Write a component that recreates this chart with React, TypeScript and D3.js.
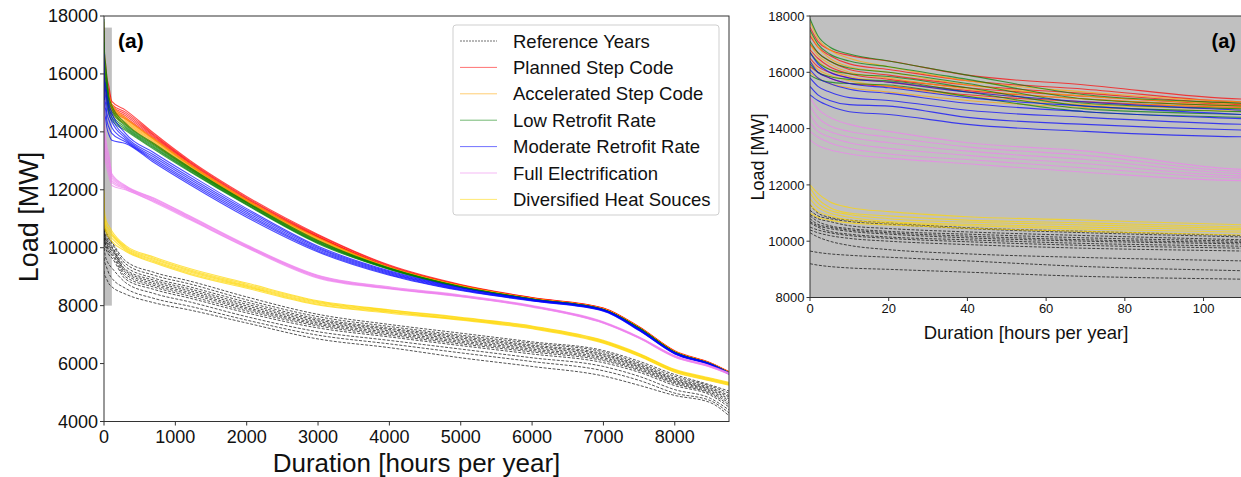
import React from "react";
import * as d3 from "d3";

// durations (hours per year) at which every load-duration curve was read
const HOURS = [0, 2, 5, 10, 20, 40, 70, 110, 300, 700, 1200, 2000, 3000, 4000, 5000, 6000, 7000, 7500, 8000, 8500, 8760];

// loads in MW, one row per curve
const referenceYears = [
  [11300, 11000, 10850, 10750, 10650, 10480, 10350, 10200, 9550, 9150, 8850, 8300, 7700, 7350, 7050, 6750, 6450, 6080, 5620, 5260, 5050],
  [11100, 10900, 10800, 10700, 10600, 10450, 10300, 10150, 9450, 9050, 8750, 8200, 7620, 7280, 6980, 6700, 6400, 6020, 5560, 5220, 4980],
  [10950, 10800, 10700, 10550, 10450, 10330, 10200, 10050, 9350, 8950, 8650, 8120, 7550, 7220, 6930, 6640, 6340, 5970, 5500, 5170, 4900],
  [10900, 10700, 10550, 10450, 10350, 10250, 10120, 10000, 9250, 8880, 8580, 8050, 7500, 7180, 6880, 6600, 6300, 5930, 5460, 5130, 4850],
  [10800, 10600, 10500, 10400, 10300, 10180, 10050, 9950, 9200, 8820, 8520, 7990, 7450, 7130, 6830, 6550, 6250, 5890, 5420, 5090, 4780],
  [10700, 10550, 10450, 10350, 10250, 10120, 10000, 9900, 9150, 8760, 8460, 7930, 7400, 7080, 6780, 6500, 6200, 5850, 5380, 5050, 4720],
  [10650, 10500, 10350, 10250, 10150, 10050, 9920, 9820, 9080, 8700, 8400, 7880, 7350, 7030, 6730, 6450, 6150, 5800, 5340, 5000, 4650],
  [10500, 10400, 10300, 10200, 10100, 9980, 9850, 9750, 9000, 8640, 8330, 7820, 7300, 6980, 6680, 6400, 6100, 5760, 5300, 4960, 4580],
  [10400, 10300, 10200, 10100, 10000, 9880, 9750, 9650, 8920, 8560, 8260, 7750, 7230, 6920, 6620, 6330, 6030, 5700, 5240, 4910, 4500],
  [10300, 10150, 10000, 9850, 9700, 9550, 9420, 9300, 8800, 8420, 8130, 7620, 7100, 6800, 6500, 6200, 5900, 5560, 5100, 4800, 4400],
  [9650, 9600, 9550, 9500, 9430, 9300, 9100, 8950, 8600, 8250, 7980, 7500, 6980, 6680, 6370, 6070, 5750, 5420, 4980, 4720, 4300],
  [9200, 9150, 9100, 9050, 9000, 8900, 8750, 8650, 8400, 8100, 7850, 7400, 6850, 6550, 6200, 5900, 5570, 5250, 4900, 4650, 4200],
];

const plannedStepCode = [
  [17600, 17100, 16800, 16600, 16400, 15900, 15550, 15050, 14750, 13950, 13020, 11770, 10460, 9400, 8730, 8280, 7920, 7270, 6440, 6030, 5720],
  [17300, 16900, 16600, 16300, 16100, 15700, 15400, 14950, 14680, 13900, 12980, 11730, 10430, 9380, 8715, 8270, 7910, 7260, 6430, 6020, 5710],
  [17000, 16700, 16400, 16100, 15900, 15550, 15250, 14900, 14620, 13860, 12950, 11700, 10400, 9350, 8700, 8260, 7900, 7250, 6420, 6010, 5700],
  [16800, 16500, 16200, 15950, 15750, 15450, 15150, 14850, 14560, 13820, 12920, 11670, 10380, 9330, 8690, 8250, 7895, 7245, 6415, 6005, 5695],
  [16500, 16200, 16000, 15800, 15650, 15350, 15050, 14800, 14500, 13780, 12880, 11640, 10360, 9320, 8680, 8245, 7890, 7240, 6410, 6000, 5690],
  [16200, 16000, 15800, 15600, 15500, 15200, 14950, 14750, 14450, 13740, 12850, 11610, 10340, 9310, 8670, 8240, 7885, 7235, 6405, 5995, 5685],
];

const acceleratedStepCode = [
  [17800, 17200, 16800, 16500, 16200, 15700, 15300, 14950, 14500, 13760, 12880, 11660, 10340, 9330, 8690, 8250, 7890, 7245, 6415, 6010, 5700],
  [17400, 16900, 16500, 16200, 16000, 15550, 15150, 14880, 14450, 13720, 12850, 11630, 10310, 9320, 8680, 8245, 7885, 7240, 6410, 6005, 5695],
  [17000, 16600, 16300, 16000, 15800, 15400, 15050, 14820, 14400, 13680, 12820, 11600, 10290, 9310, 8670, 8240, 7880, 7235, 6405, 6000, 5690],
  [16700, 16400, 16100, 15850, 15650, 15300, 14950, 14760, 14350, 13640, 12790, 11580, 10270, 9300, 8665, 8238, 7878, 7232, 6402, 5998, 5688],
  [16400, 16100, 15900, 15700, 15500, 15150, 14850, 14700, 14300, 13600, 12760, 11560, 10250, 9290, 8660, 8235, 7875, 7230, 6400, 5995, 5685],
  [16000, 15800, 15600, 15450, 15300, 15000, 14750, 14620, 14250, 13560, 12730, 11540, 10230, 9280, 8655, 8232, 7872, 7228, 6398, 5992, 5682],
];

const lowRetrofitRate = [
  [17900, 17300, 16900, 16650, 16400, 15900, 15200, 14900, 14300, 13600, 12780, 11580, 10250, 9300, 8660, 8232, 7870, 7225, 6395, 5990, 5680],
  [17500, 17000, 16650, 16400, 16200, 15750, 15050, 14800, 14250, 13560, 12750, 11560, 10220, 9290, 8650, 8228, 7866, 7222, 6392, 5988, 5678],
  [17100, 16700, 16400, 16150, 16000, 15600, 14900, 14700, 14200, 13520, 12720, 11540, 10200, 9280, 8645, 8225, 7863, 7220, 6390, 5985, 5675],
  [16700, 16350, 16100, 15950, 15850, 15450, 14800, 14600, 14150, 13480, 12690, 11510, 10180, 9270, 8640, 8222, 7860, 7218, 6388, 5982, 5672],
  [16300, 16000, 15850, 15750, 15700, 15300, 14700, 14500, 14100, 13440, 12660, 11490, 10160, 9260, 8635, 8220, 7857, 7215, 6385, 5980, 5670],
  [15900, 15750, 15650, 15600, 15550, 15150, 14600, 14400, 14050, 13400, 12630, 11470, 10140, 9250, 8630, 8218, 7855, 7212, 6382, 5978, 5668],
];

const moderateRetrofitRate = [
  [16700, 16300, 16000, 15800, 15650, 15300, 14950, 14650, 13950, 13280, 12520, 11350, 10050, 9200, 8620, 8220, 7870, 7200, 6380, 5990, 5680],
  [16400, 16000, 15800, 15600, 15450, 15100, 14800, 14500, 13850, 13200, 12440, 11290, 10010, 9170, 8600, 8200, 7850, 7180, 6370, 5980, 5670],
  [16100, 15800, 15600, 15400, 15250, 14900, 14600, 14350, 13780, 13130, 12370, 11230, 9970, 9140, 8580, 8190, 7840, 7170, 6360, 5970, 5660],
  [15800, 15500, 15300, 15100, 15000, 14650, 14400, 14150, 13720, 13060, 12300, 11170, 9930, 9110, 8560, 8180, 7830, 7160, 6350, 5960, 5650],
  [15500, 15200, 15000, 14850, 14800, 14400, 14150, 13950, 13660, 13000, 12240, 11110, 9890, 9080, 8540, 8170, 7820, 7150, 6340, 5950, 5640],
  [15200, 15000, 14800, 14600, 14500, 14150, 13900, 13710, 13600, 12940, 12180, 11050, 9850, 9050, 8520, 8160, 7810, 7140, 6330, 5940, 5630],
];

const fullElectrification = [
  [15100, 14700, 14400, 14150, 13900, 13500, 13200, 12550, 12150, 11720, 11100, 10100, 9050, 8650, 8370, 8000, 7440, 6920, 6270, 5920, 5680],
  [14800, 14400, 14100, 13900, 13700, 13350, 13050, 12480, 12120, 11690, 11080, 10080, 9030, 8630, 8350, 7990, 7430, 6910, 6260, 5910, 5670],
  [14500, 14100, 13900, 13700, 13500, 13200, 12900, 12400, 12090, 11660, 11050, 10060, 9010, 8610, 8340, 7980, 7420, 6900, 6250, 5900, 5660],
  [14200, 13900, 13700, 13500, 13300, 13050, 12750, 12320, 12060, 11630, 11020, 10040, 8990, 8600, 8330, 7970, 7410, 6890, 6240, 5890, 5650],
  [13900, 13700, 13500, 13300, 13100, 12900, 12600, 12250, 12030, 11600, 11000, 10020, 8970, 8590, 8320, 7960, 7400, 6880, 6230, 5880, 5640],
  [13600, 13400, 13250, 13100, 12950, 12750, 12450, 12150, 12000, 11570, 10970, 10000, 8950, 8580, 8310, 7950, 7390, 6870, 6220, 5870, 5630],
];

const diversifiedHeatSources = [
  [12000, 11700, 11400, 11200, 11050, 10870, 10750, 10580, 10080, 9680, 9280, 8780, 8170, 7860, 7600, 7300, 6800, 6350, 5800, 5500, 5350],
  [11900, 11500, 11200, 11000, 10900, 10750, 10650, 10500, 10040, 9640, 9240, 8740, 8140, 7840, 7580, 7280, 6780, 6330, 5780, 5480, 5330],
  [11700, 11350, 11100, 10950, 10800, 10680, 10580, 10450, 10000, 9600, 9200, 8700, 8110, 7810, 7560, 7260, 6760, 6310, 5760, 5460, 5310],
  [11500, 11200, 11000, 10850, 10700, 10600, 10500, 10400, 9960, 9560, 9160, 8670, 8080, 7790, 7540, 7240, 6740, 6290, 5740, 5440, 5290],
  [11300, 11050, 10900, 10750, 10650, 10550, 10430, 10320, 9920, 9520, 9120, 8640, 8050, 7770, 7520, 7220, 6720, 6270, 5720, 5420, 5270],
  [11000, 10850, 10750, 10650, 10580, 10460, 10350, 10220, 9880, 9480, 9080, 8600, 8020, 7740, 7500, 7200, 6700, 6250, 5700, 5400, 5250],
];

const seriesNames = [
  "Reference Years",
  "Planned Step Code",
  "Accelerated Step Code",
  "Low Retrofit Rate",
  "Moderate Retrofit Rate",
  "Full Electrification",
  "Diversified Heat Souces",
];
const seriesColors = ["#000000", "red", "orange", "green", "blue", "violet", "gold"];
const seriesLines = [
  referenceYears,
  plannedStepCode,
  acceleratedStepCode,
  lowRetrofitRate,
  moderateRetrofitRate,
  fullElectrification,
  diversifiedHeatSources,
];

const leftXTicks = [0, 1000, 2000, 3000, 4000, 5000, 6000, 7000, 8000];
const leftYTicks = [4000, 6000, 8000, 10000, 12000, 14000, 16000, 18000];
const rightXTicks = [0, 20, 40, 60, 80, 100];
const rightYTicks = [8000, 10000, 12000, 14000, 16000, 18000];

const FONT = "'Liberation Sans', Arial, Helvetica, sans-serif";
const SPINE = "#333";

type Scale = d3.ScaleLinear<number, number>;

function Curves({ x, y, clip }: { x: Scale; y: Scale; clip: string }) {
  const line = d3
    .line<number>()
    .x((_, i) => x(HOURS[i]))
    .y((d) => y(d))
    .curve(d3.curveMonotoneX);
  return (
    <g clipPath={`url(#${clip})`}>
      {seriesLines.map((lines, s) =>
        lines.map((vals, k) => (
          <path
            key={`${s}-${k}`}
            d={line(vals) || ""}
            fill="none"
            stroke={seriesColors[s]}
            strokeWidth={s === 0 ? 0.8 : 1.1}
            strokeDasharray={s === 0 ? "3,1.5" : undefined}
            opacity={s === 0 ? 0.85 : 0.7}
          />
        ))
      )}
    </g>
  );
}

function Axes({
  x, y, xTicks, yTicks, fontSize, tickLen,
}: { x: Scale; y: Scale; xTicks: number[]; yTicks: number[]; fontSize: number; tickLen: number }) {
  const [x0, x1] = x.range();
  const [y0, y1] = y.range();
  return (
    <g fontFamily={FONT} fontSize={fontSize} fill="#111">
      <rect x={x0} y={y1} width={x1 - x0} height={y0 - y1} fill="none" stroke={SPINE} strokeWidth={1} />
      {xTicks.map((t) => (
        <g key={"x" + t}>
          <line x1={x(t)} x2={x(t)} y1={y0} y2={y0 + tickLen} stroke={SPINE} />
          <text x={x(t)} y={y0 + tickLen + fontSize * 0.95} textAnchor="middle">{t}</text>
        </g>
      ))}
      {yTicks.map((t) => (
        <g key={"y" + t}>
          <line x1={x0 - tickLen} x2={x0} y1={y(t)} y2={y(t)} stroke={SPINE} />
          <text x={x0 - tickLen - 2} y={y(t) + fontSize * 0.36} textAnchor="end">{t}</text>
        </g>
      ))}
    </g>
  );
}

export default function App() {
  const xL = d3.scaleLinear().domain([0, 8760]).range([104, 729]);
  const yL = d3.scaleLinear().domain([4000, 18000]).range([421.5, 16]);
  const xR = d3.scaleLinear().domain([0, 110]).range([810, 1242.9]);
  const yR = d3.scaleLinear().domain([8000, 18000]).range([297.5, 16]);

  const legendX = 453, legendY = 25, rowH = 26.4;

  return (
    <svg width={1241} height={477} style={{ position: "absolute", left: 0, top: 0, background: "#fff" }}>
      <defs>
        <clipPath id="clipL">
          <rect x={104} y={16} width={625} height={405.5} />
        </clipPath>
        <clipPath id="clipR">
          <rect x={810} y={16} width={432.9} height={281.5} />
        </clipPath>
      </defs>

      {/* left: whole year */}
      <rect x={xL(0)} y={yL(17600)} width={xL(110) - xL(0)} height={yL(8000) - yL(17600)} fill="#c0c0c0" />
      <Curves x={xL} y={yL} clip="clipL" />
      <Axes x={xL} y={yL} xTicks={leftXTicks} yTicks={leftYTicks} fontSize={18} tickLen={4} />
      <text x={118} y={48} fontFamily={FONT} fontWeight="bold" fontSize={21}>(a)</text>

      <g fontFamily={FONT} fontSize={18.5}>
        <rect x={legendX} y={legendY} width={266} height={190} rx={3} fill="#fff" fillOpacity={0.85} stroke="#cfcfcf" />
        {seriesNames.map((name, i) => {
          const cy = legendY + 16 + i * rowH;
          return (
            <g key={name}>
              <line
                x1={460} x2={497} y1={cy} y2={cy}
                stroke={seriesColors[i]}
                strokeWidth={i === 0 ? 0.7 : 1}
                strokeDasharray={i === 0 ? "2,1" : undefined}
                opacity={i === 0 ? 0.8 : 0.55}
              />
              <text x={513} y={cy + 6.5} fill="#111">{name}</text>
            </g>
          );
        })}
      </g>

      <text
        transform="translate(38,217) rotate(-90)"
        textAnchor="middle"
        fontFamily={FONT}
        fontSize={27}
        fill="#111"
      >
        Load [MW]
      </text>
      <text x={416.5} y={472} textAnchor="middle" fontFamily={FONT} fontSize={26} fill="#111">
        Duration [hours per year]
      </text>

      {/* right: first 110 hours */}
      <rect x={810} y={16} width={432.9} height={281.5} fill="#c0c0c0" />
      <Curves x={xR} y={yR} clip="clipR" />
      <Axes x={xR} y={yR} xTicks={rightXTicks} yTicks={rightYTicks} fontSize={13} tickLen={3.5} />
      <text x={1236} y={48} textAnchor="end" fontFamily={FONT} fontWeight="bold" fontSize={20}>(a)</text>
      <text
        transform="translate(764,157) rotate(-90)"
        textAnchor="middle"
        fontFamily={FONT}
        fontSize={18}
        fill="#111"
      >
        Load [MW]
      </text>
      <text x={1026} y={339} textAnchor="middle" fontFamily={FONT} fontSize={18.5} fill="#111">
        Duration [hours per year]
      </text>
    </svg>
  );
}
